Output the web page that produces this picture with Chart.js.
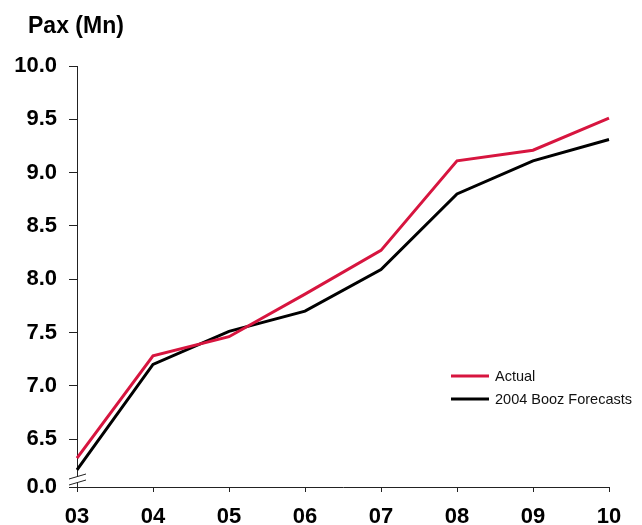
<!DOCTYPE html>
<html>
<head>
<meta charset="utf-8">
<script src="https://cdn.jsdelivr.net/npm/chart.js@4/dist/chart.umd.min.js"></script>
<style>
  html, body { margin: 0; padding: 0; background: #fff; }
  canvas { display: block; }
</style>
</head>
<body>
<canvas id="paxChart" width="642" height="525"></canvas>
<script>
const years = ['03', '04', '05', '06', '07', '08', '09', '10'];
const actual = [6.32, 7.28, 7.46, 7.86, 8.27, 9.11, 9.21, 9.51];
const boozForecast = [6.21, 7.20, 7.51, 7.70, 8.09, 8.80, 9.11, 9.31];

// bottom of the axis is cut off; the lowest tick stands for zero
const yTickValues = [6.05, 6.5, 7.0, 7.5, 8.0, 8.5, 9.0, 9.5, 10.0];
const yTickLabels = ['0.0', '6.5', '7.0', '7.5', '8.0', '8.5', '9.0', '9.5', '10.0'];

const RED = '#D7153F';
const AXIS = '#222';
const FONT = '"Liberation Sans", Arial, Helvetica, sans-serif';

// title, inline legend and the axis break marks
const decorations = {
    id: 'decorations',
    afterDraw(chart) {
        const c = chart.ctx;
        const area = chart.chartArea;
        c.save();

        c.fillStyle = '#000';
        c.font = 'bold 23px ' + FONT;
        c.textBaseline = 'alphabetic';
        c.textAlign = 'left';
        c.fillText('Pax (Mn)', 28, 33);

        // break on the y axis
        const x0 = area.left, y0 = area.bottom;
        c.fillStyle = '#fff';
        c.beginPath();
        c.moveTo(x0 - 8, y0 - 8);
        c.lineTo(x0 + 9, y0 - 13);
        c.lineTo(x0 + 9, y0 - 7);
        c.lineTo(x0 - 8, y0 - 2);
        c.closePath();
        c.fill();
        c.strokeStyle = AXIS;
        c.lineWidth = 1;
        c.beginPath();
        c.moveTo(x0 - 8, y0 - 8);
        c.lineTo(x0 + 9, y0 - 13);
        c.moveTo(x0 - 8, y0 - 2);
        c.lineTo(x0 + 9, y0 - 7);
        c.stroke();

        // legend
        c.font = '14.5px ' + FONT;
        c.textBaseline = 'middle';
        chart.data.datasets.forEach((ds, i) => {
            const y = 376 + i * 23;
            c.strokeStyle = ds.borderColor;
            c.lineWidth = 3;
            c.beginPath();
            c.moveTo(451, y);
            c.lineTo(489, y);
            c.stroke();
            c.fillStyle = '#111';
            c.fillText(ds.label, 495, y + 1);
        });
        c.restore();
    }
};

const ctx = document.getElementById('paxChart').getContext('2d');
const paxChart = new Chart(ctx, {
    type: 'line',
    data: {
        labels: years,
        datasets: [{
            label: 'Actual',
            data: actual,
            borderColor: RED,
            backgroundColor: RED,
            borderWidth: 3,
            pointRadius: 0,
            tension: 0
        }, {
            label: '2004 Booz Forecasts',
            data: boozForecast,
            borderColor: '#000',
            backgroundColor: '#000',
            borderWidth: 3,
            pointRadius: 0,
            tension: 0
        }]
    },
    options: {
        responsive: false,
        animation: false,
        layout: {
            padding: { top: 66, right: 33, bottom: 0, left: 0 }
        },
        plugins: {
            legend: { display: false },
            tooltip: { enabled: false }
        },
        scales: {
            x: {
                offset: false,
                border: { display: true, color: AXIS, width: 1 },
                grid: {
                    drawOnChartArea: false,
                    drawTicks: true,
                    tickLength: 5,
                    color: AXIS
                },
                ticks: {
                    color: '#000',
                    padding: 12,
                    maxRotation: 0,
                    autoSkip: false,
                    font: { family: FONT, size: 22, weight: 'bold' }
                },
                afterFit(scale) { scale.height = 38; }
            },
            y: {
                min: 6.05,
                max: 10.0,
                border: { display: true, color: AXIS, width: 1 },
                grid: {
                    drawOnChartArea: false,
                    drawTicks: true,
                    tickLength: 8,
                    color: AXIS
                },
                afterBuildTicks(scale) {
                    scale.ticks = yTickValues.map(value => ({ value }));
                },
                ticks: {
                    color: '#000',
                    padding: 12,
                    font: { family: FONT, size: 22, weight: 'bold' },
                    callback: (value, index) => yTickLabels[index]
                },
                afterFit(scale) { scale.width = 77; }
            }
        }
    },
    plugins: [decorations]
});
</script>
</body>
</html>
